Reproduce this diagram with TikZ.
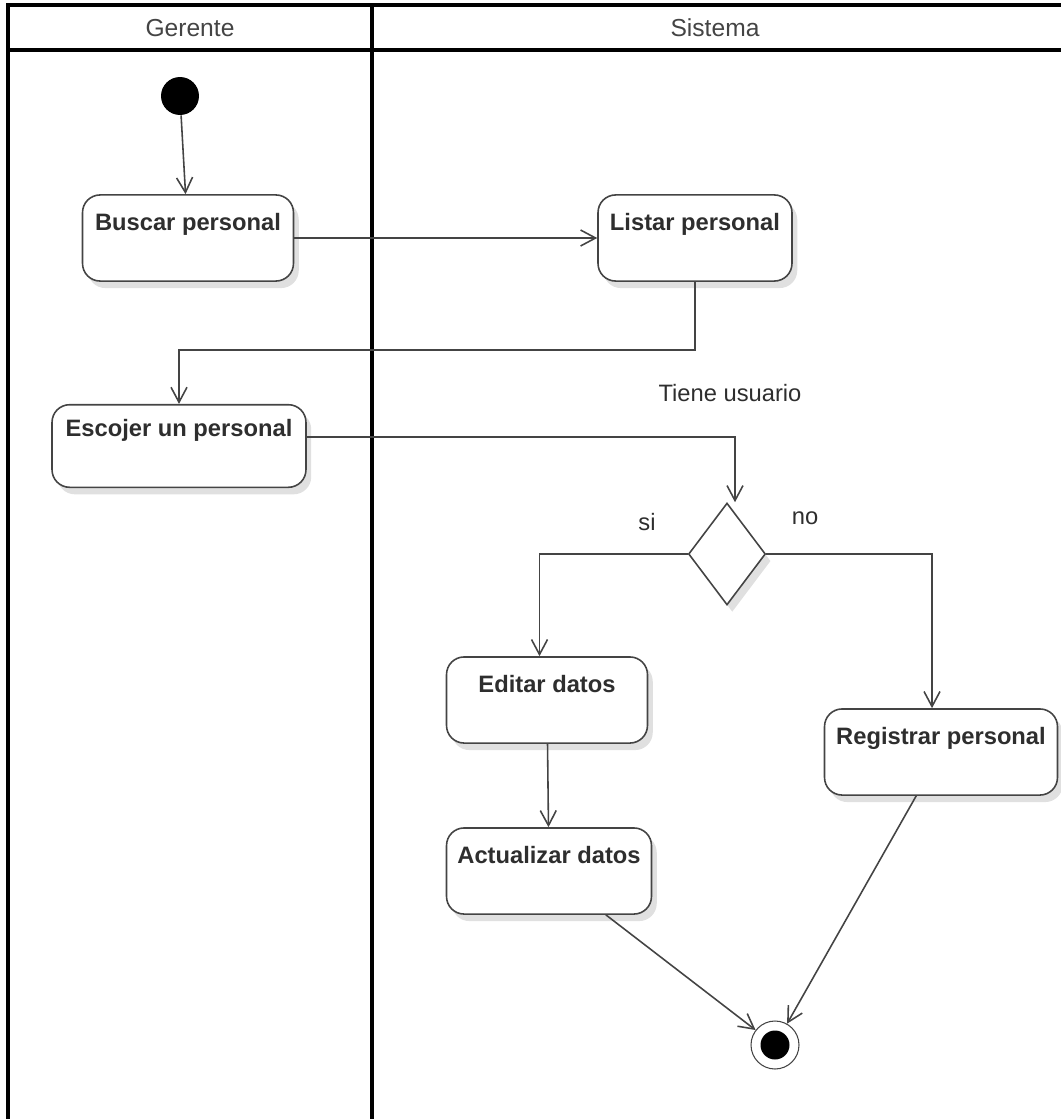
\documentclass[tikz,border=0pt]{standalone}
\usepackage{fontspec}
\setmainfont{Liberation Sans}
\usepackage{tikz}
\usetikzlibrary {arrows.meta,
                 positioning,
                 shadows,
                 shapes.geometric}
\definecolor{linegray}{HTML}{444444}
\definecolor{txtgray}{HTML}{2E2E2E}
\tikzset{
        base/.style={draw=linegray, line width=0.9pt, fill=white,
                     text=txtgray, align=center, inner sep=4pt,
                     drop shadow={shadow xshift=3pt, shadow yshift=-4pt,
                                  opacity=0.12, fill=black}},
        act/.style={base, rectangle, rounded corners=10pt,
                    font=\bfseries\fontsize{13.5}{16}\selectfont,
                    text height=16pt, text depth=25pt},
        test/.style={base, diamond, inner sep=0pt,
                     minimum width=1.54cm, minimum height=2.04cm},
        startst/.style={circle, fill=black, inner sep=0pt,
                        minimum size=0.76cm},
        endst/.style={circle, draw=linegray, line width=0.6pt, fill=white,
                      inner sep=0pt, minimum size=0.96cm,
                      path picture={\fill[black] (path picture bounding box.center)
                                    circle (0.29cm);}},
        lbl/.style={text=txtgray, font=\fontsize{13.5}{16}\selectfont},
        lane/.style={line width=1.8pt, draw=black},
        myarrow/.style={-{Straight Barb[length=3mm, width=3.2mm]},
                        line width=0.9pt, draw=linegray},
 }

\begin{document}
\begin{tikzpicture}[x=0.02cm, y=-0.02cm]
    \useasboundingbox (0,0) rectangle (1061,1119);
    % swimlanes
    \draw[lane] (1061,5) -- (8,5) -- (8,1119);
    \draw[lane] (8,50) -- (1061,50);
    \draw[lane] (372,5) -- (372,1119);
    \node[lbl, text=linegray, font=\fontsize{14}{16}\selectfont] (gerente) at (190,28) {Gerente};
    \node[lbl, text=linegray, font=\fontsize{14}{16}\selectfont] (sistema) at (715,28) {Sistema};

    \node[startst] (ini) at (180,96) {};
    \node[act, minimum width=4.22cm] (buscar) at (188,238) {Buscar personal};
    \node[act, minimum width=3.88cm] (listar) at (695,238) {Listar personal};
    \node[act, minimum width=5.08cm, text height=14pt, text depth=25pt] (escojer) at (179,446) {Escojer un personal};
    \node[test] (dec) at (727,554) {};
    \node[act, minimum width=4.02cm] (editar) at (547,700) {Editar datos};
    \node[act, minimum width=4.1cm] (actual) at (549,871) {Actualizar datos};
    \node[act, minimum width=4.66cm] (registrar) at (941,752) {Registrar personal};
    \node[endst] (fin) at (775,1045) {};

    \node[lbl] (tiene) at (730,393) {Tiene usuario};
    \node[lbl] (si) at (647,522) {si};
    \node[lbl] (no) at (805,518) {no};

    \coordinate (k1) at (690,350);
    \draw[myarrow] (ini) -- (buscar);
    \draw[myarrow] (buscar) -- (listar);
    \draw[myarrow] (listar.south) -- (listar.south |- k1) -| (escojer.north);
    \draw[myarrow] ([yshift=0.18cm]escojer.east) -| ([xshift=0.16cm]dec.north);
    \draw[myarrow] (dec.west) -| ([xshift=-0.15cm]editar.north);
    \draw[myarrow] (dec.east) -| ([xshift=-0.18cm]registrar.north);
    \draw[myarrow] (editar) -- (actual);
    \draw[myarrow] (actual) -- (fin);
    \draw[myarrow] (registrar) -- (fin);
\end{tikzpicture}
\end{document}
